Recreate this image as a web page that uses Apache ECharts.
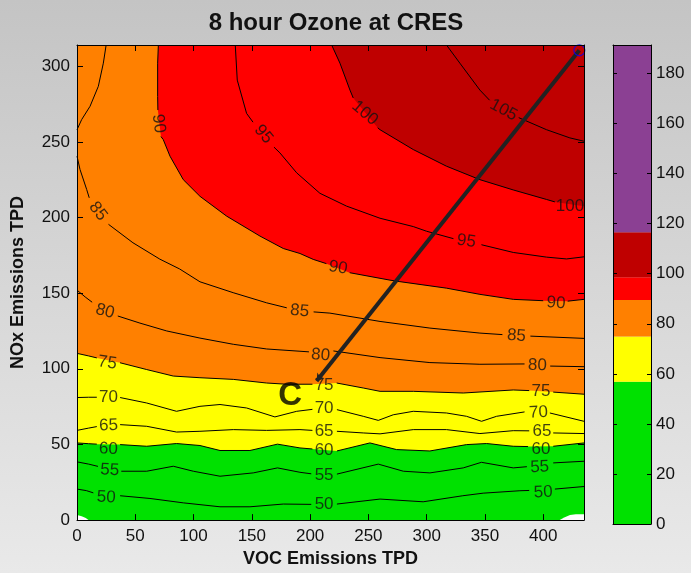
<!DOCTYPE html>
<html>
<head>
<meta charset="utf-8">
<title>8 hour Ozone at CRES</title>
<script src="https://cdn.jsdelivr.net/npm/echarts@6/dist/echarts.min.js"></script>
<style>
  html, body { margin: 0; padding: 0; }
  body {
    width: 691px; height: 573px; overflow: hidden;
    background: linear-gradient(to bottom, #c4c4c4 0%, #d5d5d5 45%, #e9e9e9 100%);
  }
  #chart { width: 691px; height: 573px; }
</style>
</head>
<body>
<div id="chart"></div>
<script>
// Axis extents (TPD)
const X_MAX = 435;
const Y_MAX = 314;

// Contour lines of 8-hour ozone (ppb): [VOC, NOx] points, null marks a break for a label
const C50 = [[0,20.5],[8,19.5],[14,18],null,[37,16.1],[62.6,14.3],[91.2,11.4],[122.7,8.8],[148.4,8.8],[177,10.6],[201,10.4],null,[223,10.6],[260,13.9],[297,12.1],[331,16.1],[348.5,17.8],[380,19.4],[388,19.6],null,[410,20.5],[435,22.2]];
const C55 = [[0,38.5],[10,37],[18,35.5],null,[38,32.3],[59.8,32.3],[82.6,35.6],[99.8,32.3],[122.7,29],[151.2,31.2],[172,34.5],[191.3,31.6],[201,30.6],null,[223,30.4],[258.5,37],[280,32.3],[302.8,31.2],[331.4,34.5],[347,38.2],[374.3,34.5],[386,35.3],null,[408.6,37.8],[435,38.9]];
const C60 = [[0,51],[10,50.5],[17,50.2],null,[37,49.9],[59.8,48.8],[85.4,50.6],[105.5,49.3],[122.7,46],[148.4,46],[172,50.2],[191.3,47.7],[202,47],null,[223,45.7],[251.3,51],[274.2,46.6],[302.8,45.7],[334.2,49.9],[351.4,50.6],[374.3,48.8],[387,48.6],null,[408.6,48.8],[435,51]];
const C65 = [[0,59.3],[10,60.8],[17,61.8],null,[37,63.1],[59.8,62],[85.4,58.2],[105.5,58.7],[134.1,59.8],[162.7,59.3],[191.3,59.8],[202,59.3],null,[223,58.7],[245.6,57.6],[260,57],[288.5,59.8],[317,59.8],[345.7,57.2],[374.3,59.1],[388,59],null,[408.6,57.6],[435,57.2]];
const C70 = [[0,81],[10,81.2],[17,81.2],null,[37,81],[59.8,77.4],[85.4,71.9],[105.5,75.2],[122.7,76.4],[145.5,74.1],[169.8,68.2],[188.5,71.9],[202,73.2],null,[223,73],[245.6,68.6],[258.5,65.9],[271.3,69.6],[288.5,71.9],[317,70.8],[334.2,68.6],[347.1,65.3],[360,68.6],[384,71.5],null,[405.7,70.8],[435,65.3]];
const C75 = [[0,110.2],[10,108.5],[17,107.2],null,[36.9,104],[59.8,99.5],[82.6,95.2],[105.5,94.1],[134.1,93],[162.7,90.6],[179.9,89.8],[202,89.8],null,[222.8,90.6],[245.6,87.3],[260,85.1],[288.5,85.1],[331.4,84],[374.3,86],[388,85.6],null,[408.6,84.6],[435,83.2]];
const C80 = [[0,152],[7,147.5],[13,144],null,[35,134.9],[54,130.2],[77,125],[105.5,120.3],[134.1,116.2],[162.7,113.1],[191.3,111.6],[199,111.2],null,[220,111.8],[260,107.4],[302.8,104.1],[345.7,103],[384,103.2],null,[406,101.8],[435,101.4]];
const C85 = [[25,314],[22.6,302],[18.3,286.7],[11.2,273.5],[4,264.7],[0,258],null,[0,240.5],[2.6,231.7],[8.3,218.5],[10.5,213],null,[27,195.5],[48,183.3],[71,172.5],[88,166],[105.5,157.5],[134,150.3],[162.7,143.6],[180,140.3],null,[203,137.6],[217,136.8],[260,131.3],[302.8,126.9],[345.7,123.6],[365,122.6],null,[389,121.6],[435,120.1]];
const C90 = [[69.8,314],[69.2,302],[69.2,280],[69.4,271],null,[72,253.5],[74,251.5],[79.8,240.5],[91.2,225],[105.5,214],[128.4,200.9],[157,187.7],[177,179.5],[191.3,176.2],[202.7,172.3],[214,169.5],null,[234,163.5],[268.5,158.6],[277,157.6],[317,153.3],[345.7,149.2],[374.3,145.9],[400,145],null,[421,144.7],[435,145.9]];
const C95 = [[135.8,314],[137.5,290.8],[145.5,268.8],[151,263],null,[169,246.5],[174.1,242.7],[188.5,229.5],[208.4,216],[231.3,207.5],[260,199.5],[288.5,194],[300,190.9],[323,186],null,[347,182],[374.3,176.9],[402.9,173.8],[420,172.6],[435,174]];
const C100 = [[218.5,314],[225.6,302],[234.2,284.2],[237,279],null,[258,259.3],[260,258],[288.5,244.9],[317,233.9],[345.7,225],[374.3,218.2],[402.9,211.9],[410,210.3],null,[435,207.5]];
const C105 = [[317,314],[328.5,302],[345.7,284.2],[354,277.5],null,[379,266],[382.8,264.7],[402.9,258],[422.9,252.6],[435,250.4]];

// Contour labels: [VOC, NOx, text angle in degrees]
const L50 = [[25,15,-3],[212,10.6,0],[400,18.3,3]];
const L55 = [[28,33,-3],[212,29.4,0],[397,35,2]];
const L60 = [[27,47,-2],[212,46,0],[398,47,0]];
const L65 = [[27,62.5,2],[212,59,0],[399,59,0]];
const L70 = [[27,81,0],[212,73.6,0],[396,71,3]];
const L75 = [[26,104,-8],[212,88.8,0],[398,84.8,0]];
const L80 = [[24,138,-15],[209,109,-5],[395,102.3,-2]];
const L85 = [[18,204,-52],[191,138.2,-5],[377,121.8,-4]];
const L90 = [[70,262,-83],[224,166.8,-10],[411,143.5,-4]];
const L95 = [[160,255,-50],[334,184.4,-8]];
const L100 = [[247,269,-40],[423,207.5,0]];
const L105 = [[366,271,-28]];

const LEVELS = [50, 55, 60, 65, 70, 75, 80, 85, 90, 95, 100, 105];
const LINES_BY_LEVEL = [C50, C55, C60, C65, C70, C75, C80, C85, C90, C95, C100, C105];
const LABELS_BY_LEVEL = [L50, L55, L60, L65, L70, L75, L80, L85, L90, L95, L100, L105];

// Filled bands: region above each of these contours takes the colour
const BASE_COLOR = '#00e100';
const FILL_LEVELS = [60, 75, 90, 100];
const FILL_COLORS = ['#ffff00', '#ff8000', '#ff0000', '#bf0000'];

// Areas without model output (white)
const BLANK_LEFT = [[0,3.4],[4,2.6],[7.5,1.4],[10,0]];
const BLANK_RIGHT = [[414,0],[418,1.8],[423,3.4],[428,3.8],[435,3.8]];

// Control path toward point C
const PATH_START = [431, 310.5];
const PATH_END = [205.6, 92];
const C_POS = [183, 82];
const C_TEXT = 'C';

// Colour bar
const CBAR_EDGES = [0, 56.8, 74.9, 89.5, 98.6, 116.6, 191.4];
const CBAR_COLORS = ['#00e100', '#ffff00', '#ff8000', '#ff0000', '#bf0000', '#8b4093'];

const FONT = '"Liberation Sans", Arial, Helvetica, sans-serif';
const INK = '#111';

function splitSegments(points) {
  const segs = [];
  let cur = [];
  points.forEach(p => {
    if (p === null) { if (cur.length > 1) segs.push(cur); cur = []; }
    else cur.push(p);
  });
  if (cur.length > 1) segs.push(cur);
  return segs;
}

const series = [];

// Filled contour bands
FILL_LEVELS.forEach((lvl, i) => {
  const pts = LINES_BY_LEVEL[LEVELS.indexOf(lvl)].filter(p => p !== null);
  series.push({
    type: 'line', xAxisIndex: 0, yAxisIndex: 0,
    data: pts, symbol: 'none', silent: true, z: 2 + i * 0.01,
    lineStyle: { width: 0, opacity: 0 },
    areaStyle: { color: FILL_COLORS[i], opacity: 1, origin: 'end' },
    animation: false
  });
});

// Blank corners
[BLANK_LEFT, BLANK_RIGHT].forEach(pts => {
  series.push({
    type: 'line', xAxisIndex: 0, yAxisIndex: 0,
    data: pts, symbol: 'none', silent: true, z: 2.5,
    lineStyle: { width: 0, opacity: 0 },
    areaStyle: { color: '#ffffff', opacity: 1, origin: 'start' },
    animation: false
  });
});

// Contour lines
const contourSegs = [];
LINES_BY_LEVEL.forEach(pts => splitSegments(pts).forEach(s => contourSegs.push({ coords: s })));
series.push({
  type: 'lines', coordinateSystem: 'cartesian2d', xAxisIndex: 0, yAxisIndex: 0,
  polyline: true, silent: true, z: 3,
  lineStyle: { color: '#000', width: 1, opacity: 1 },
  data: contourSegs, animation: false
});

// Contour labels
const labelData = [];
LABELS_BY_LEVEL.forEach((labels, i) => {
  labels.forEach(l => labelData.push({
    value: [l[0], l[1]],
    label: { rotate: l[2], formatter: String(LEVELS[i]) }
  }));
});
series.push({
  type: 'scatter', xAxisIndex: 0, yAxisIndex: 0, symbolSize: 0, silent: true, z: 4, clip: false,
  label: { show: true, position: 'inside', color: INK, fontSize: 17, fontFamily: FONT },
  data: labelData, animation: false
});

// Control path with arrow head at C
series.push({
  type: 'lines', coordinateSystem: 'cartesian2d', xAxisIndex: 0, yAxisIndex: 0,
  silent: true, z: 5,
  symbol: ['none', 'arrow'], symbolSize: 7,
  lineStyle: { color: '#222', width: 4, opacity: 1 },
  data: [{ coords: [PATH_START, PATH_END] }], animation: false
});
series.push({
  type: 'scatter', xAxisIndex: 0, yAxisIndex: 0, silent: true, z: 6, clip: false,
  symbol: 'circle', symbolSize: 11,
  itemStyle: { color: 'rgba(0,0,0,0)', borderColor: '#0000ff', borderWidth: 1.2 },
  data: [PATH_START], animation: false
});
series.push({
  type: 'scatter', xAxisIndex: 0, yAxisIndex: 0, symbolSize: 0, silent: true, z: 6, clip: false,
  label: { show: true, position: 'inside', formatter: C_TEXT, color: '#000', fontSize: 33, fontWeight: 'bold', fontFamily: FONT },
  data: [C_POS], animation: false
});

// Colour bar segments
CBAR_COLORS.forEach((c, i) => {
  series.push({
    type: 'bar', xAxisIndex: 2, yAxisIndex: 2, stack: 'cbar', barWidth: '100%', silent: true,
    itemStyle: { color: c },
    data: [CBAR_EDGES[i + 1] - CBAR_EDGES[i]], animation: false
  });
});

const frameLine = { show: true, onZero: false, lineStyle: { color: '#000', width: 1 } };
const tickIn = (len) => ({ show: true, inside: true, length: len, lineStyle: { color: '#000', width: 1 } });
const tickLabel = { color: INK, fontSize: 17, fontFamily: FONT };

const option = {
  animation: false,
  backgroundColor: 'transparent',
  title: {
    text: '8 hour Ozone at CRES', left: 331, top: 6, textAlign: 'center',
    textStyle: { fontFamily: FONT, fontSize: 24, fontWeight: 'bold', color: INK }
  },
  grid: [
    { left: 77, right: 107, top: 45, bottom: 52, show: true, backgroundColor: BASE_COLOR, borderWidth: 0 },
    { left: 613, right: 40, top: 45, bottom: 49, show: false }
  ],
  xAxis: [
    {
      gridIndex: 0, type: 'value', min: 0, max: X_MAX, interval: 50, position: 'bottom', z: 10,
      axisLine: frameLine, axisTick: tickIn(6), splitLine: { show: false },
      axisLabel: Object.assign({ margin: 8, showMaxLabel: false }, tickLabel),
      name: 'VOC Emissions TPD', nameLocation: 'middle', nameGap: 29,
      nameTextStyle: { fontFamily: FONT, fontSize: 18, fontWeight: 'bold', color: INK }
    },
    {
      gridIndex: 0, type: 'value', min: 0, max: X_MAX, interval: 50, position: 'top', z: 10,
      axisLine: frameLine, axisTick: tickIn(6), splitLine: { show: false }, axisLabel: { show: false }
    },
    {
      gridIndex: 1, type: 'category', data: [''], position: 'bottom', z: 10,
      axisLine: frameLine, axisTick: { show: false }, axisLabel: { show: false }, splitLine: { show: false }
    },
    {
      gridIndex: 1, type: 'category', data: [''], position: 'top', z: 10,
      axisLine: frameLine, axisTick: { show: false }, axisLabel: { show: false }, splitLine: { show: false }
    }
  ],
  yAxis: [
    {
      gridIndex: 0, type: 'value', min: 0, max: Y_MAX, interval: 50, position: 'left', z: 10,
      axisLine: frameLine, axisTick: tickIn(6), splitLine: { show: false },
      axisLabel: Object.assign({ margin: 7, showMaxLabel: false }, tickLabel),
      name: 'NOx Emissions TPD', nameLocation: 'middle', nameGap: 50, nameRotate: 90,
      nameTextStyle: { fontFamily: FONT, fontSize: 18, fontWeight: 'bold', color: INK }
    },
    {
      gridIndex: 0, type: 'value', min: 0, max: Y_MAX, interval: 50, position: 'right', z: 10,
      axisLine: frameLine, axisTick: tickIn(6), splitLine: { show: false }, axisLabel: { show: false }
    },
    {
      gridIndex: 1, type: 'value', min: 0, max: CBAR_EDGES[CBAR_EDGES.length - 1], interval: 20, position: 'right', z: 10,
      axisLine: frameLine, axisTick: tickIn(4), splitLine: { show: false },
      axisLabel: Object.assign({ margin: 5, showMaxLabel: false }, tickLabel)
    },
    {
      gridIndex: 1, type: 'value', min: 0, max: CBAR_EDGES[CBAR_EDGES.length - 1], interval: 20, position: 'left', z: 10,
      axisLine: frameLine, axisTick: tickIn(4), splitLine: { show: false }, axisLabel: { show: false }
    }
  ],
  series: series
};

const chart = echarts.init(document.getElementById('chart'));
chart.setOption(option);
</script>
</body>
</html>
